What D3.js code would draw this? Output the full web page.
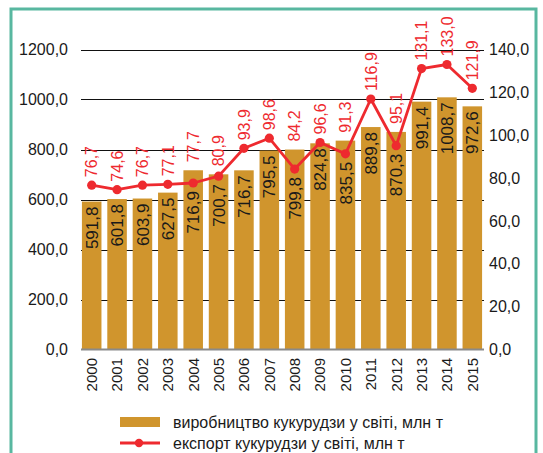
<!DOCTYPE html>
<html>
<head>
<meta charset="utf-8">
<script src="https://cdn.jsdelivr.net/npm/d3@7"></script>
<style>
  html, body { margin: 0; padding: 0; background: #fff; }
  svg { display: block; font-family: "Liberation Sans", Arial, Helvetica, sans-serif; }
</style>
</head>
<body>
<svg id="chart" width="543" height="453"></svg>
<script>
const years = ["2000","2001","2002","2003","2004","2005","2006","2007","2008","2009","2010","2011","2012","2013","2014","2015"];
const production = [591.8,601.8,603.9,627.5,716.9,700.7,716.7,795.5,799.8,824.8,835.5,889.8,870.3,991.4,1008.7,972.6];
const exportVals = [76.7,74.6,76.7,77.1,77.7,80.9,93.9,98.6,84.2,96.6,91.3,116.9,95.1,131.1,133.0,121.9];
const leftTicks = [0,200,400,600,800,1000,1200];
const rightTicks = [0,20,40,60,80,100,120,140];
const legendLabels = ["виробництво кукурудзи у світі, млн т", "експорт кукурудзи у світі, млн т"];

const barColor = "#d0952d";
const red = "#ee2a2f";
const teal = "#58b7a0";

const svg = d3.select("#chart");
const fmt = v => d3.format(".1f")(v).replace(".", ",");

const x = d3.scaleBand().domain(years).range([79, 485]).paddingInner(0.23).paddingOuter(0.115);
const yL = d3.scaleLinear().domain([0, 1200]).range([349.5, 49.5]);
const yR = d3.scaleLinear().domain([0, 140]).range([349.5, 49.5]);
const xLeft = 81, xRight = 484;

// border
svg.append("rect").attr("x", 11).attr("y", 9).attr("width", 525).attr("height", 520)
  .attr("fill", "none").attr("stroke", teal).attr("stroke-width", 3);

// gridlines
svg.append("g").selectAll("line").data(leftTicks.filter(d => d > 0)).join("line")
  .attr("x1", xLeft).attr("x2", xRight)
  .attr("y1", d => Math.round(yL(d)) + 0.5).attr("y2", d => Math.round(yL(d)) + 0.5)
  .attr("stroke", "#111").attr("stroke-width", 1);

// left axis
const axL = svg.append("g").attr("transform", "translate(68,0)")
  .call(d3.axisLeft(yL).tickValues(leftTicks).tickFormat(fmt).tickSize(0).tickPadding(0));
axL.select(".domain").remove();
axL.selectAll("text").attr("font-size", 16).attr("fill", "#1a1a1a").attr("font-family", null);

// right axis
const axR = svg.append("g").attr("transform", "translate(489,0)")
  .call(d3.axisRight(yR).tickValues(rightTicks).tickFormat(fmt).tickSize(0).tickPadding(0));
axR.select(".domain").remove();
axR.selectAll("text").attr("font-size", 16).attr("fill", "#1a1a1a").attr("font-family", null);

// bars
svg.append("g").selectAll("rect").data(production).join("rect")
  .attr("x", (d, i) => x(years[i]))
  .attr("width", x.bandwidth())
  .attr("y", d => yL(d))
  .attr("height", d => yL(0) - yL(d))
  .attr("fill", barColor);

// baseline
svg.append("line").attr("x1", xLeft).attr("x2", xRight)
  .attr("y1", yL(0)).attr("y2", yL(0)).attr("stroke", "#8a8a8a").attr("stroke-width", 2);

// x labels
svg.append("g").selectAll("text").data(years).join("text")
  .attr("transform", d => `translate(${x(d) + x.bandwidth() / 2},358) rotate(-90)`)
  .attr("text-anchor", "end").attr("dy", "0.36em")
  .attr("font-size", 15).attr("fill", "#1a1a1a")
  .text(d => d);

// bar value labels
svg.append("g").selectAll("text").data(production).join("text")
  .attr("transform", (d, i) => {
    const top = yL(d), py = yR(exportVals[i]);
    const yy = py > top ? Math.max(top + 5, py + 8) : top + 5;
    return `translate(${x(years[i]) + x.bandwidth() / 2},${yy}) rotate(-90)`;
  })
  .attr("text-anchor", "end").attr("dy", "0.36em")
  .attr("font-size", 17).attr("fill", "#1a1a1a")
  .text(d => fmt(d));

// export line
const line = d3.line().x((d, i) => x(years[i]) + x.bandwidth() / 2).y(d => yR(d));
svg.append("path").datum(exportVals).attr("d", line)
  .attr("fill", "none").attr("stroke", red).attr("stroke-width", 2.8).attr("stroke-linejoin", "round");
svg.append("g").selectAll("circle").data(exportVals).join("circle")
  .attr("cx", (d, i) => x(years[i]) + x.bandwidth() / 2)
  .attr("cy", d => yR(d)).attr("r", 4.6).attr("fill", red);

// export labels
svg.append("g").selectAll("text").data(exportVals).join("text")
  .attr("transform", (d, i) => {
    const yy = Math.min(yR(d), yL(production[i])) - 8;
    return `translate(${x(years[i]) + x.bandwidth() / 2},${yy}) rotate(-90)`;
  })
  .attr("text-anchor", "start").attr("dy", "0.36em")
  .attr("font-size", 16).attr("fill", red)
  .text(d => fmt(d));

// legend
const lg = svg.append("g");
lg.append("rect").attr("x", 120).attr("y", 417).attr("width", 40).attr("height", 10).attr("fill", barColor);
lg.append("line").attr("x1", 120).attr("x2", 160).attr("y1", 443).attr("y2", 443)
  .attr("stroke", red).attr("stroke-width", 2.8);
lg.append("circle").attr("cx", 139).attr("cy", 443).attr("r", 4.2).attr("fill", red);
lg.selectAll("text").data(legendLabels).join("text")
  .attr("x", 173).attr("y", (d, i) => 422 + i * 21).attr("dy", "0.36em")
  .attr("font-size", 16).attr("fill", "#1a1a1a")
  .text(d => d);
</script>
</body>
</html>
